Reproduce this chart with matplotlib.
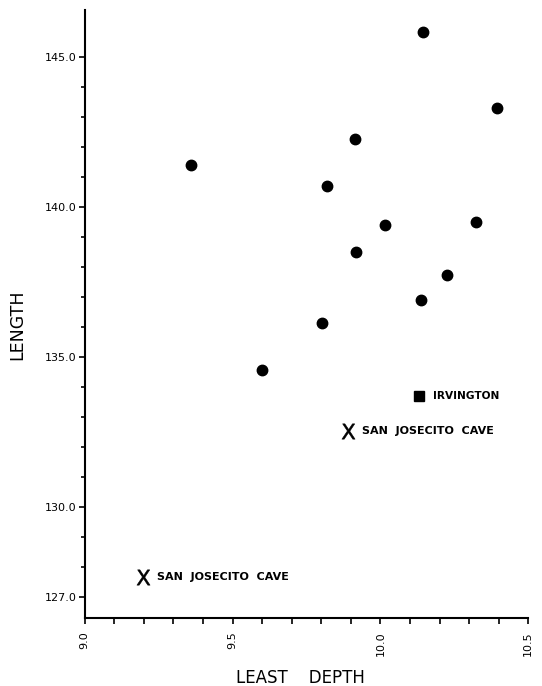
import matplotlib
matplotlib.use("Agg")
import matplotlib.pyplot as plt
from matplotlib.ticker import MultipleLocator, FixedLocator

# Data
depth = [10.143, 10.393, 9.914, 9.359, 9.820, 10.017, 10.324, 9.917, 10.224, 10.136, 9.801, 9.601]
length = [145.83, 143.29, 142.26, 141.41, 140.71, 139.40, 139.49, 138.51, 137.73, 136.89, 136.12, 134.55]

irv_depth = [10.131]
irv_length = [133.69]
irv_label = "IRVINGTON"

sjc_depth = [9.891, 9.198]
sjc_length = [132.53, 127.67]
sjc_label = "SAN  JOSECITO  CAVE"

y_major = [127.0, 130.0, 135.0, 140.0, 145.0]
y_minor = list(range(127, 146))
x_major = [9.0, 9.5, 10.0, 10.5]

plt.rcParams['font.family'] = ['DejaVu Sans']

fig = plt.figure(figsize=(5.42, 6.86), dpi=100)
ax = fig.add_axes([84.7/542, 1-617.7/686, (528.3-84.7)/542, (617.7-10)/686])

ax.plot(depth, length, 'o', color='black', markersize=7.5, linestyle='none')
ax.plot(irv_depth, irv_length, 's', color='black', markersize=7, linestyle='none')
ax.plot(sjc_depth, sjc_length, marker=r'$\mathrm{X}$', color='black', markersize=11,
        markeredgewidth=0.4, linestyle='none')

for xv, yv in zip(irv_depth, irv_length):
    ax.annotate(irv_label, (xv, yv), xytext=(10, 0), textcoords='offset points',
                va='center', ha='left', fontsize=7.6, fontweight='bold')
for xv, yv in zip(sjc_depth, sjc_length):
    ax.annotate(sjc_label, (xv, yv), xytext=(10, 0), textcoords='offset points',
                va='center', ha='left', fontsize=8, fontweight='bold')

ax.set_xlim(9.0, 10.5)
ax.set_ylim(126.30, 146.57)

for s in ['top', 'right']:
    ax.spines[s].set_visible(False)
for s in ['left', 'bottom']:
    ax.spines[s].set_linewidth(1.5)

ax.yaxis.set_major_locator(FixedLocator(y_major))
ax.yaxis.set_minor_locator(FixedLocator(y_minor))
ax.set_yticklabels([f"{v:.1f}" for v in y_major], fontsize=8)
ax.xaxis.set_major_locator(FixedLocator(x_major))
ax.xaxis.set_minor_locator(MultipleLocator(0.1))
ax.set_xticklabels([f"{v:.1f}" for v in x_major], fontsize=8, rotation=90)

ax.tick_params(axis='y', which='major', direction='out', length=4.5, width=1.2, pad=1.5)
ax.tick_params(axis='y', which='minor', direction='out', length=3, width=1.2)
ax.tick_params(axis='x', which='both', direction='out', length=4.5, width=1.2, pad=5)

fig.text(300.8/542, 1-678/686, "LEAST    DEPTH", ha='center', va='center', fontsize=12)
fig.text(17/542, 1-325/686, "LENGTH", ha='center', va='center', fontsize=12.5, rotation=90)

fig.savefig("out.png", dpi=100)
